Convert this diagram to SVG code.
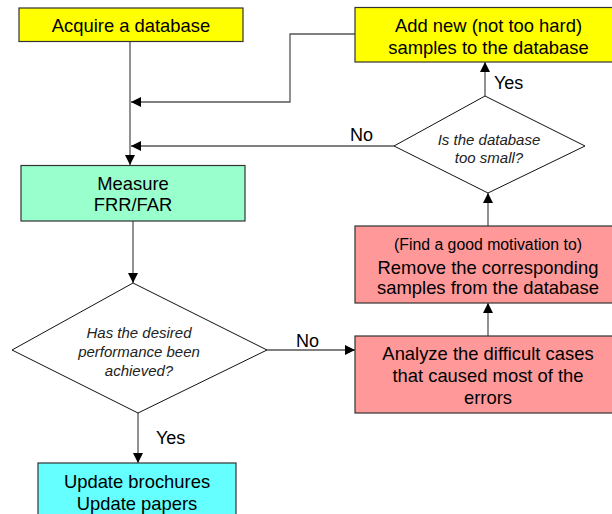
<svg xmlns="http://www.w3.org/2000/svg" width="612" height="514" viewBox="0 0 612 514">
  <defs>
    <marker id="arrow" viewBox="0 0 10 10" refX="10" refY="5" markerWidth="10" markerHeight="10" markerUnits="userSpaceOnUse" orient="auto">
      <path d="M0,0 L10,5 L0,10 Z" fill="#000"/>
    </marker>
    <style>
      .box { stroke: #333; stroke-width: 1.2; }
      .dia { fill: #fff; stroke: #111; stroke-width: 1; }
      .conn { fill: none; stroke: #555; stroke-width: 1.3; marker-end: url(#arrow); }
      text { font-family: "Liberation Sans", Arial, sans-serif; fill: #000; text-anchor: middle; }
      .t { font-size: 18.4px; }
      .q { font-size: 15px; font-style: italic; fill: #222; }
      .s { font-size: 15.8px; }
      .lbl { font-size: 18px; text-anchor: start; }
    </style>
  </defs>
  <rect width="612" height="514" fill="#fff"/>

  <!-- connectors -->
  <g id="connectors">
    <path class="conn" d="M130,42 V165"/>
    <path class="conn" d="M355,34 H290 V102 H131"/>
    <path class="conn" d="M394,146 H131"/>
    <path class="conn" d="M485,96 V62"/>
    <path class="conn" d="M133,221 V283"/>
    <path class="conn" d="M138,413 V463"/>
    <path class="conn" d="M267,350 H355"/>
    <path class="conn" d="M488,336 V303"/>
    <path class="conn" d="M488,226 V193"/>
    <text class="lbl" x="350" y="140.5">No</text>
    <text class="lbl" x="494" y="88.5">Yes</text>
    <text class="lbl" x="296" y="346.5">No</text>
    <text class="lbl" x="156" y="443.5">Yes</text>
  </g>

  <g id="acquire">
    <rect class="box" x="19" y="8" width="224" height="33.5" fill="#ffff00"/>
    <text class="t" x="131" y="31.5">Acquire a database</text>
  </g>

  <g id="add-samples">
    <rect class="box" x="355" y="7.5" width="270" height="54.5" fill="#ffff00"/>
    <text class="t" x="488.5" y="31.5">Add new (not too hard)</text>
    <text class="t" x="488.5" y="53.5">samples to the database</text>
  </g>

  <g id="db-small">
    <polygon class="dia" points="485,96 585,146 488,193 394,146"/>
    <text class="q" x="489" y="144.5">Is the database</text>
    <text class="q" x="489" y="163">too small?</text>
  </g>

  <g id="measure">
    <rect class="box" x="21" y="165.5" width="224" height="55.5" fill="#99ffcc"/>
    <text class="t" x="133" y="189.5">Measure</text>
    <text class="t" x="133" y="210.5">FRR/FAR</text>
  </g>

  <g id="remove">
    <rect class="box" x="355" y="226" width="270" height="77" fill="#ff9999"/>
    <text class="s" x="488" y="249.5">(Find a good motivation to)</text>
    <text class="t" x="488" y="273.5">Remove the corresponding</text>
    <text class="t" x="488" y="294">samples from the database</text>
  </g>

  <g id="performance">
    <polygon class="dia" points="133,283 267,350 138,413 12,350"/>
    <text class="q" x="139" y="338">Has the desired</text>
    <text class="q" x="139" y="357">performance been</text>
    <text class="q" x="139" y="376">achieved?</text>
  </g>

  <g id="analyze">
    <rect class="box" x="355" y="336" width="270" height="77" fill="#ff9999"/>
    <text class="t" x="488" y="359.5">Analyze the difficult cases</text>
    <text class="t" x="488" y="381.5">that caused most of the</text>
    <text class="t" x="488" y="403.5">errors</text>
  </g>

  <g id="update">
    <rect class="box" x="38" y="463" width="198" height="60" fill="#66ffff"/>
    <text class="t" x="137" y="487.5">Update brochures</text>
    <text class="t" x="137" y="509.5">Update papers</text>
  </g>
</svg>
